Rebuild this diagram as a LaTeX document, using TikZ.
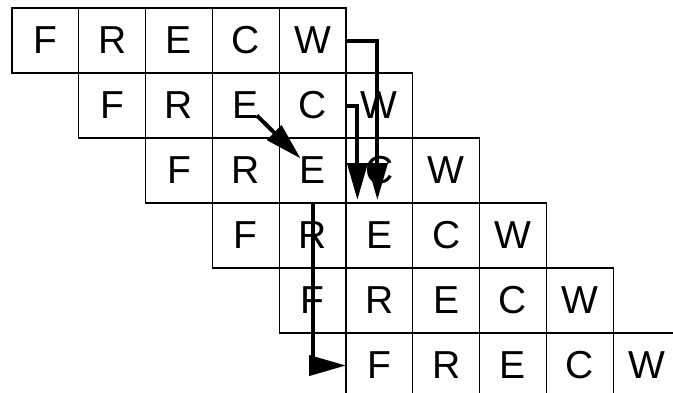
\documentclass[tikz,border=0pt]{standalone}
\usepackage{fontspec}
\setmainfont{Liberation Sans}
\usetikzlibrary{arrows.meta,positioning,calc}

\begin{document}
\begin{tikzpicture}[
    x=1pt,y=-1pt,
    node distance=0pt,
    cell/.style={rectangle,draw,line width=1.3pt,minimum width=66.8pt,minimum height=65pt,
      inner sep=0pt,outer sep=0pt,font=\fontsize{39}{41}\selectfont},
    flow/.style={line width=4pt,-{Triangle[length=37pt,width=20pt]}},
  ]
  \clip (0,0) rectangle (673,392);

  %% Stage 1
  \node[cell] (f1) at (45.4,40.5) {F};
  \node[cell,right=of f1] (r1) {R};
  \node[cell,right=of r1] (e1) {E};
  \node[cell,right=of e1] (c1) {C};
  \node[cell,right=of c1] (w1) {W};

  %% Stage 2
  \node[cell,below=of r1] (f2) {F};
  \node[cell,right=of f2] (r2) {R};
  \node[cell,right=of r2] (e2) {E};
  \node[cell,right=of e2] (c2) {C};
  \node[cell,right=of c2] (w2) {W};

  %% Stage 3
  \node[cell,below=of r2] (f3) {F};
  \node[cell,right=of f3] (r3) {R};
  \node[cell,right=of r3] (e3) {E};
  \node[cell,right=of e3] (c3) {C};
  \node[cell,right=of c3] (w3) {W};

  %% Stage 4
  \node[cell,below=of r3] (f4) {F};
  \node[cell,right=of f4] (r4) {R};
  \node[cell,right=of r4] (e4) {E};
  \node[cell,right=of e4] (c4) {C};
  \node[cell,right=of c4] (w4) {W};

  %% Stage 5
  \node[cell,below=of r4] (f5) {F};
  \node[cell,right=of f5] (r5) {R};
  \node[cell,right=of r5] (e5) {E};
  \node[cell,right=of e5] (c5) {C};
  \node[cell,right=of c5] (w5) {W};

  %% Stage 6
  \node[cell,below=of r5] (f6) {F};
  \node[cell,right=of f6] (r6) {R};
  \node[cell,right=of r6] (e6) {E};
  \node[cell,right=of e6] (c6) {C};
  \node[cell,right=of c6] (w6) {W};

  %% Forwarding paths
  \draw[flow] (w1.east) -| ([xshift=-2pt,yshift=3pt]c3.south);
  \draw[flow] (c2.east) -| ([xshift=-22pt,yshift=3pt]c3.south);
  \draw[flow] ($(e2)+(11,10)$) -- ($(e3)+(-12,-12)$);
  \draw[flow] (e3.south) |- (f6.west);
\end{tikzpicture}
\end{document}
